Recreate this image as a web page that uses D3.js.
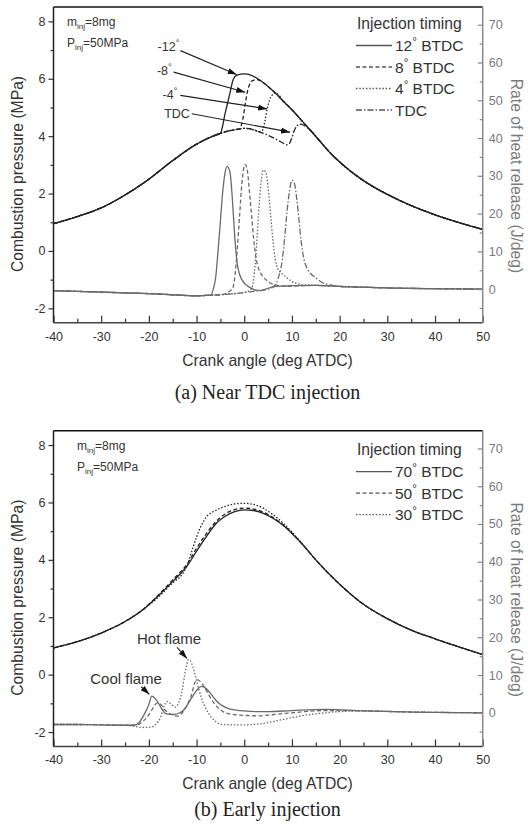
<!DOCTYPE html>
<html>
<head>
<meta charset="utf-8">
<script src="https://cdn.jsdelivr.net/npm/d3@7"></script>
<style>
  body { margin: 0; background: #fff; }
  svg { display: block; }
  text { font-family: "Liberation Sans", Arial, sans-serif; }
  text.caption { font-family: "Liberation Serif", "Times New Roman", serif; }
</style>
</head>
<body>
<div id="chart"></div>
<script>
// axes
var xDomain = [-40, 50], pDomain = [-2.5, 8.5], hDomain = [-8.9, 74.7];
var xTicks = [-40, -30, -20, -10, 0, 10, 20, 30, 40, 50];
var xMinor = [-35, -25, -15, -5, 5, 15, 25, 35, 45];
var pTicks = [-2, 0, 2, 4, 6, 8];
var pMinor = [-1, 1, 3, 5, 7];
var hTicks = [0, 10, 20, 30, 40, 50, 60, 70];
var hMinor = [-5, 5, 15, 25, 35, 45, 55, 65];

// (a) near TDC injection - pressure (MPa)
var namesA = ["12° BTDC", "8° BTDC", "4° BTDC", "TDC"];
var pMotorA = [[-40,0.95],[-35,1.2],[-30,1.5],[-25,1.95],[-20,2.5],[-15,3.15],[-10,3.72],[-7,3.97],[-5,4.1],[-3,4.19],[-1,4.25],[0,4.27],[1,4.26],[2,4.22],[3,4.16],[4,4.1],[5,4.03],[6,3.95],[7,3.86],[8,3.77],[9,3.7]];
var pTailA = [[8,5.25],[10,4.92],[12,4.55],[14,4.18],[16,3.8],[18,3.42],[20,3.1],[25,2.45],[30,1.97],[35,1.58],[40,1.26],[45,0.99],[50,0.75]];
var p12 = [[-4,4.8],[-3,5.5],[-2.3,5.98],[-1.5,6.13],[0,6.17],[1.5,6.12],[3,5.98],[4.5,5.8],[6,5.58],[7,5.42]];
var p8 = [[-0.3,4.6],[0.2,5.1],[0.6,5.5],[1,5.75],[1.6,5.92],[2.5,5.97],[3.3,5.93],[4.5,5.8],[6,5.58],[7,5.42]];
var p4 = [[3.8,4.2],[4.3,4.5],[4.8,4.95],[5.3,5.25],[5.8,5.42],[6.5,5.5],[7.2,5.45]];
var p0 = [[9.5,3.75],[10,3.95],[10.5,4.2],[11,4.35],[11.7,4.42],[12.5,4.38],[13.3,4.28]];
var pStartA = [-5, -0.8, 3.5, 9];

// (a) rate of heat release (J/deg)
var hBaseA = [[-40,-0.4],[-35,-0.6],[-30,-0.8],[-25,-1.0],[-20,-1.2],[-15,-1.5],[-10,-1.8],[-7,-1.6],[-5,-1.5],[-2,-1.2],[0,-0.9],[2,-0.6],[4,-0.3],[5,0]];
var hTailA = [[20,0.7],[25,0.5],[30,0.3],[40,0.1],[50,0]];
var h12 = [[-6.5,0],[-6,3],[-5.5,10],[-5,18],[-4.5,26],[-4,31],[-3.6,32.5],[-3,31],[-2.5,24],[-2,14],[-1.5,7],[-1,4],[-0.5,2.5],[0.5,1],[1.5,0.2],[2.5,-0.3],[3.5,-0.4],[4.5,0],[6,0.6],[8,0.8],[10,0.9],[15,1.0]];
var h8 = [[-2.5,0],[-2,3],[-1.5,10],[-1,19],[-0.5,28],[0.2,33],[0.7,31],[1,27],[1.5,20],[2,13],[2.5,8],[3,5.5],[4,3.2],[5,2],[6,1.3],[7,1],[8,0.8],[10,0.8],[15,1.0]];
var h4 = [[1.5,0],[2,3],[2.5,10],[3,20],[3.5,28],[4,31.5],[4.5,31],[5,27],[5.5,20],[6,13],[6.5,8],[7,5.5],[8,4],[9,3],[10,2],[11,1.5],[12,1.2],[15,1.0]];
var h0 = [[6,0.5],[7,2.5],[8,8],[8.5,14],[9,21],[9.5,26],[10,28.8],[10.5,28],[11,24],[11.5,18],[12,12],[12.5,8],[13,6],[14,4],[15,3],[16,2],[17,1.4],[18,1.1]];
var hStartA = [-7, -3, 1, 5];

// (b) early injection - pressure (MPa)
var namesB = ["70° BTDC", "50° BTDC", "30° BTDC"];
var pMotorB = [[-40,0.93],[-35,1.15],[-30,1.45],[-25,1.85],[-21,2.3]];
var pTailB = [[12,4.58],[15,4.0],[20,3.15],[25,2.45],[30,1.95],[35,1.55],[40,1.25],[45,0.97],[50,0.7]];
var p70 = [[-18,2.75],[-15,3.25],[-12,3.78],[-10,4.3],[-8,4.8],[-6,5.25],[-4,5.52],[-2,5.68],[0,5.74],[2,5.72],[4,5.62],[6,5.45],[8,5.22],[10,4.92]];
var p50 = [[-18,2.78],[-15,3.3],[-12,3.85],[-10,4.4],[-8,4.9],[-6,5.32],[-4,5.6],[-2,5.75],[0,5.8],[2,5.77],[4,5.66],[6,5.48],[8,5.24],[10,4.93]];
var p30 = [[-18,2.7],[-15,3.2],[-13,3.5],[-12,3.8],[-11,4.3],[-10,4.8],[-9,5.2],[-8,5.48],[-6,5.72],[-4,5.86],[-2,5.95],[0,5.97],[2,5.93],[4,5.8],[6,5.58],[8,5.3],[10,4.97]];

// (b) rate of heat release (J/deg)
var hBaseB = [[-40,-3.1],[-35,-3.1],[-30,-3.2],[-25,-3.3]];
var hTailB = [[25,0.5],[35,0.2],[50,0]];
var h70 = [[-23,-3.3],[-22,-2.5],[-21,-0.5],[-20,2.2],[-19.4,4.4],[-18.5,3.5],[-17.5,1.5],[-16.5,-0.2],[-14.8,-0.45],[-13.5,0],[-12.5,1],[-11.5,3],[-10.5,5],[-9.5,6.6],[-8.9,7.0],[-8,6.4],[-7,5],[-6,3.4],[-5,2.2],[-4,1.5],[-3,1.0],[-2,0.8],[0,0.5],[3,0.3],[5,0.3],[10,0.6],[17,0.9]];
var h50 = [[-23,-3.3],[-22,-3.0],[-21,-2.0],[-20,-0.5],[-19,1.5],[-18.3,2.6],[-17.5,2.2],[-16.5,0.6],[-15,-0.6],[-14,-0.9],[-13,0],[-12,2],[-11,5],[-10.5,7.5],[-9.9,8.8],[-9,8],[-8,6],[-7,3.8],[-6,2],[-5,0.8],[-4,0],[-2,-0.5],[0,-0.7],[3,-0.8],[5,-0.6],[10,0],[17,0.6]];
var h30 = [[-23,-3.6],[-21,-3.9],[-19.5,-3.8],[-18.5,-3],[-17.5,-1],[-16.8,1.8],[-16.2,3.0],[-15.5,2.5],[-14.5,1.5],[-13.8,2.5],[-13,6],[-12.5,10],[-12,13],[-11.7,14.1],[-11,13],[-10.5,11],[-10,8.5],[-9,4],[-8,1],[-7,-1],[-6,-2.3],[-5,-3],[-2,-3.2],[0,-3.2],[4,-2.8],[8,-1.8],[12,-0.8],[17,0]];

// annotations: [label, text deg, text value, arrow from deg, from value, tip deg, tip value]
var notesA = [
  ["-12°", -13.6, 6.95, -13.4, 6.98, -1.6, 6.15],
  ["-8°", -15.2, 6.12, -14.8, 6.23, 0.2, 5.53],
  ["-4°", -14.0, 5.28, -13.4, 5.42, 4.8, 4.95],
  ["TDC", -11.4, 4.62, -11.0, 4.78, 9.6, 4.14]
];
var notesB = [
  ["Hot flame", -22.5, 18.3, -14.1, 17.3, -12.0, 14.4],
  ["Cool flame", -32.3, 7.7, -21.6, 6.9, -19.9, 4.9]
];

var dashes = ["none", "4,2.5", "1.5,1.8", "6,2,1.5,2"];

var W = 528, H = 824;
var plotLeft = 53.5, plotRight = 482.7, plotH = 315.7;
var titleSize = 15.7;

var svg = d3.select("#chart").append("svg")
    .attr("width", W)
    .attr("height", H);

svg.append("defs").append("marker")
    .attr("id", "arrow")
    .attr("viewBox", "-9 -4 10 8")
    .attr("refX", 0).attr("refY", 0)
    .attr("markerWidth", 10).attr("markerHeight", 8)
    .attr("markerUnits", "userSpaceOnUse")
    .attr("orient", "auto")
  .append("path")
    .attr("d", "M0,0 L-9,-3 L-9,3 Z")
    .attr("fill", "#111");

// text with a raised degree sign
function degText(sel, str, size) {
  var parts = str.split("°");
  sel.append("tspan").text(parts[0]);
  for (var i = 1; i < parts.length; i++) {
    sel.append("tspan").attr("dy", -size * 0.4).attr("font-size", size * 0.75).text("°");
    sel.append("tspan").attr("dy", size * 0.4).text(parts[i]);
  }
}

function subText(sel, a, sub, b) {
  sel.append("tspan").text(a);
  sel.append("tspan").attr("dy", 3).attr("font-size", 8).text(sub);
  sel.append("tspan").attr("dy", -3).text(b);
}

function join(motor, start, mid, tail) {
  var first = motor.filter(function(d) { return d[0] <= start; });
  var last = mid[mid.length - 1][0];
  return first.concat(mid, tail.filter(function(d) { return d[0] > last; }));
}

function drawPanel(cfg) {
  var g = svg.append("g").attr("transform", "translate(0," + cfg.top + ")");
  var x = d3.scaleLinear().domain(xDomain).range([plotLeft, plotRight]);
  var yP = d3.scaleLinear().domain(pDomain).range([plotH, 0]);
  var yH = d3.scaleLinear().domain(hDomain).range([plotH, 0]);

  var clipId = "clip" + cfg.id;
  g.append("clipPath").attr("id", clipId)
    .append("rect")
    .attr("x", plotLeft).attr("y", 0)
    .attr("width", plotRight - plotLeft).attr("height", plotH);

  var lineP = d3.line().x(function(d) { return x(d[0]); }).y(function(d) { return yP(d[1]); }).curve(d3.curveMonotoneX);
  var lineH = d3.line().x(function(d) { return x(d[0]); }).y(function(d) { return yH(d[1]); }).curve(d3.curveMonotoneX);

  var curves = g.append("g").attr("clip-path", "url(#" + clipId + ")");
  cfg.hrr.forEach(function(s, i) {
    curves.append("path").datum(s)
      .attr("d", lineH)
      .attr("fill", "none")
      .attr("stroke", "#6a6a6a")
      .attr("stroke-width", 1.3)
      .attr("stroke-dasharray", dashes[i]);
  });
  cfg.press.forEach(function(s, i) {
    curves.append("path").datum(s)
      .attr("d", lineP)
      .attr("fill", "none")
      .attr("stroke", "#222")
      .attr("stroke-width", 1.3)
      .attr("stroke-dasharray", dashes[i]);
  });

  var fmt = function(d) { return String(d); };

  // left axis
  g.append("g").attr("transform", "translate(" + plotLeft + ",0)")
    .call(d3.axisLeft(yP).tickValues(pTicks).tickSize(5).tickPadding(3).tickFormat(fmt));
  g.append("g").attr("transform", "translate(" + plotLeft + ",0)")
    .call(d3.axisLeft(yP).tickValues(pMinor).tickSize(3).tickFormat(""));
  // right axis
  g.append("g").attr("class", "raxis").attr("transform", "translate(" + plotRight + ",0)")
    .call(d3.axisRight(yH).tickValues(hTicks).tickSizeInner(-5).tickSizeOuter(0).tickPadding(6).tickFormat(fmt));
  g.append("g").attr("class", "raxis").attr("transform", "translate(" + plotRight + ",0)")
    .call(d3.axisRight(yH).tickValues(hMinor).tickSizeInner(-3).tickSizeOuter(0).tickFormat(""));
  // bottom axis
  g.append("g").attr("transform", "translate(0," + plotH + ")")
    .call(d3.axisBottom(x).tickValues(xTicks).tickSizeInner(-7).tickSizeOuter(0).tickPadding(9).tickFormat(fmt));
  g.append("g").attr("transform", "translate(0," + plotH + ")")
    .call(d3.axisBottom(x).tickValues(xMinor).tickSizeInner(-4).tickSizeOuter(0).tickFormat(""));

  g.selectAll(".domain").remove();
  g.selectAll(".tick line").attr("stroke", "#333").attr("stroke-width", 1.2);
  g.selectAll(".tick text").attr("font-size", 12.5).attr("fill", "#333");
  g.selectAll(".raxis .tick line").attr("stroke", "#888");
  g.selectAll(".raxis .tick text").attr("fill", "#7a7a7a");

  // frame
  g.append("line").attr("x1", plotLeft).attr("x2", plotRight).attr("y1", 0).attr("y2", 0)
    .attr("stroke", "#111").attr("stroke-width", 1.6);
  g.append("line").attr("x1", plotLeft).attr("x2", plotLeft).attr("y1", 0).attr("y2", plotH)
    .attr("stroke", "#222").attr("stroke-width", 1.5);
  g.append("line").attr("x1", plotLeft).attr("x2", plotRight).attr("y1", plotH).attr("y2", plotH)
    .attr("stroke", "#444").attr("stroke-width", 1.5);
  g.append("line").attr("x1", plotRight).attr("x2", plotRight).attr("y1", 0).attr("y2", plotH)
    .attr("stroke", "#888").attr("stroke-width", 1.5);

  // axis titles
  g.append("text")
    .attr("transform", "translate(23," + 167 + ") rotate(-90)")
    .attr("text-anchor", "middle").attr("font-size", titleSize).attr("fill", "#333")
    .text("Combustion pressure (MPa)");
  g.append("text")
    .attr("transform", "translate(511," + 169 + ") rotate(90)")
    .attr("text-anchor", "middle").attr("font-size", titleSize).attr("fill", "#7a7a7a")
    .text("Rate of heat release (J/deg)");
  g.append("text")
    .attr("x", 267.5).attr("y", 358.5)
    .attr("text-anchor", "middle").attr("font-size", titleSize).attr("fill", "#333")
    .text("Crank angle (deg ATDC)");
  g.append("text")
    .attr("class", "caption")
    .attr("x", 267.5).attr("y", cfg.captionY)
    .attr("text-anchor", "middle").attr("font-size", 20).attr("fill", "#222")
    .text(cfg.caption);

  // conditions
  subText(g.append("text").attr("x", cfg.condX).attr("y", 19).attr("font-size", 12).attr("fill", "#333"), "m", "inj", "=8mg");
  subText(g.append("text").attr("x", cfg.condX).attr("y", 40).attr("font-size", 12).attr("fill", "#333"), "P", "inj", "=50MPa");

  // legend
  g.append("text").attr("x", 357).attr("y", cfg.legendTitleY)
    .attr("font-size", 15.7).attr("fill", "#333").text("Injection timing");
  cfg.names.forEach(function(n, i) {
    var yy = cfg.legendY + i * 21.5;
    g.append("line").attr("x1", 356).attr("x2", 392).attr("y1", yy).attr("y2", yy)
      .attr("stroke", "#555").attr("stroke-width", 1.3)
      .attr("stroke-dasharray", dashes[i]);
    degText(g.append("text").attr("x", 395).attr("y", yy + 5.5)
      .attr("font-size", 15.5).attr("fill", "#333"), n, 15.5);
  });

  // annotations
  var ys = cfg.noteAxis === "p" ? yP : yH;
  cfg.notes.forEach(function(d) {
    degText(g.append("text").attr("x", x(d[1])).attr("y", ys(d[2]))
      .attr("text-anchor", cfg.noteAnchor).attr("font-size", cfg.noteSize).attr("fill", "#333"), d[0], cfg.noteSize);
    g.append("line")
      .attr("x1", x(d[3])).attr("y1", ys(d[4]))
      .attr("x2", x(d[5])).attr("y2", ys(d[6]))
      .attr("stroke", "#222").attr("stroke-width", 1.1)
      .attr("marker-end", "url(#arrow)");
  });
}

drawPanel({
  id: "a", top: 7, caption: "(a) Near TDC injection", captionY: 392,
  names: namesA, condX: 67, legendTitleY: 21.5, legendY: 38.5,
  press: [
    join(pMotorA, pStartA[0], p12, pTailA),
    join(pMotorA, pStartA[1], p8, pTailA),
    join(pMotorA, pStartA[2], p4, pTailA),
    join(pMotorA, pStartA[3], p0, pTailA)
  ],
  hrr: [
    join(hBaseA, hStartA[0], h12, hTailA),
    join(hBaseA, hStartA[1], h8, hTailA),
    join(hBaseA, hStartA[2], h4, hTailA),
    join(hBaseA, hStartA[3], h0, hTailA)
  ],
  notes: notesA, noteAxis: "p", noteAnchor: "end", noteSize: 12.5
});

drawPanel({
  id: "b", top: 430.7, caption: "(b) Early injection", captionY: 385.5,
  names: namesB, condX: 77, legendTitleY: 24, legendY: 41,
  press: [
    join(pMotorB, -21, p70, pTailB),
    join(pMotorB, -21, p50, pTailB),
    join(pMotorB, -21, p30, pTailB)
  ],
  hrr: [
    join(hBaseB, -25, h70, hTailB),
    join(hBaseB, -25, h50, hTailB),
    join(hBaseB, -25, h30, hTailB)
  ],
  notes: notesB, noteAxis: "h", noteAnchor: "start", noteSize: 15
});
</script>
</body>
</html>
